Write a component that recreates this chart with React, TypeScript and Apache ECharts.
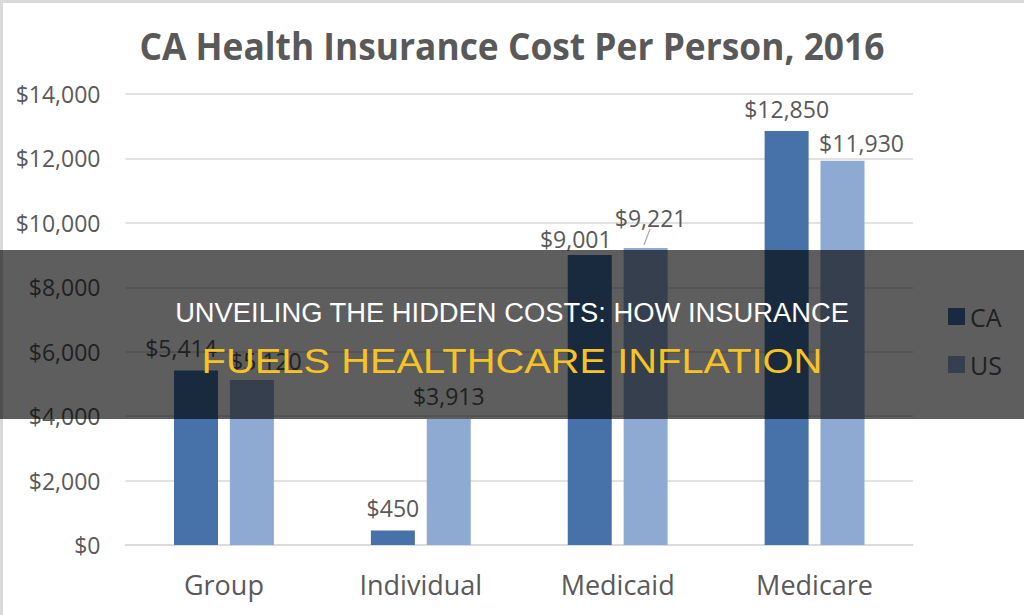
import React, { useEffect, useRef } from "react";
import * as echarts from "echarts";

const categories = ["Group", "Individual", "Medicaid", "Medicare"];
const caValues = [5414, 450, 9001, 12850];
const usValues = [5120, 3913, 9221, 11930];
const seriesNames = ["CA", "US"];
const yTicks = { min: 0, max: 14000, interval: 2000 };
const titleText = "CA Health Insurance Cost Per Person, 2016";
const bannerLine1 = "UNVEILING THE HIDDEN COSTS: HOW INSURANCE";
const bannerLine2 = "FUELS HEALTHCARE INFLATION";

// label nudges (Excel-style label placement)
const caLabelShift = [[-15, 0], [0, 0], [-14, 6], [0, 0]];
const usLabelShift = [[14, 3], [0, 0], [5, -7], [19, 5]];

function measure(text: string, font: string): number {
  const c = document.createElement("canvas");
  const ctx = c.getContext("2d");
  if (!ctx) return 1;
  ctx.font = font;
  return ctx.measureText(text).width || 1;
}

const fmt = (v: number) => "$" + v.toLocaleString("en-US");

export default function App() {
  const ref = useRef<HTMLDivElement>(null);
  useEffect(() => {
    if (!ref.current) return;
    document.body.style.margin = "0";
    const chart = echarts.init(ref.current, undefined, { renderer: "svg" });
    const gray = "#595959";
    const titleFont = '700 38px "Open Sans"';
    const b1Font = '400 27px "Liberation Sans"';
    const b2Font = '400 35px "Liberation Sans"';
    const titleScale = 745 / measure(titleText, titleFont);
    const b1Scale = 675 / measure(bannerLine1, b1Font);
    const b2Scale = 621 / measure(bannerLine2, b2Font);

    const labelBase = {
      show: true,
      position: "top",
      distance: 11,
      color: gray,
      fontFamily: "Open Sans",
      fontSize: 23,
      lineHeight: 23,
      formatter: (p: any) => fmt(p.value),
    };

    chart.setOption({
      animation: false,
      backgroundColor: "#ffffff",
      grid: { left: 125.5, right: 111, top: 94, bottom: 70, containLabel: false },
      legend: {
        orient: "vertical",
        left: 943,
        top: 299,
        itemWidth: 17,
        itemHeight: 17,
        itemGap: 23,
        icon: "rect",
        textStyle: { color: gray, fontFamily: "Open Sans", fontSize: 25, padding: [0, 0, 0, 0] },
        data: seriesNames,
      },
      xAxis: {
        type: "category",
        data: categories,
        axisLine: { lineStyle: { color: "#d9d9d9", width: 1.5 } },
        axisTick: { show: false },
        axisLabel: { color: gray, fontFamily: "Open Sans", fontSize: 27, margin: 26 },
      },
      yAxis: {
        type: "value",
        min: yTicks.min,
        max: yTicks.max,
        interval: yTicks.interval,
        axisLine: { show: false },
        axisTick: { show: false },
        splitLine: { lineStyle: { color: "#d9d9d9", width: 1.5 } },
        axisLabel: {
          color: gray,
          fontFamily: "Open Sans",
          fontSize: 23,
          margin: 25,
          formatter: (v: number) => fmt(v),
        },
      },
      series: [
        {
          name: seriesNames[0],
          type: "bar",
          barWidth: 44,
          barGap: "27%",
          itemStyle: { color: "#4672a9" },
          label: labelBase,
          labelLayout: (p: any) => ({ dx: caLabelShift[p.dataIndex][0], dy: caLabelShift[p.dataIndex][1] }),
          data: caValues,
        },
        {
          name: seriesNames[1],
          type: "bar",
          barWidth: 44,
          itemStyle: { color: "#8faad2" },
          label: labelBase,
          labelLayout: (p: any) => ({ dx: usLabelShift[p.dataIndex][0], dy: usLabelShift[p.dataIndex][1] }),
          data: usValues,
        },
      ],
      graphic: [
        {
          type: "line",
          z: 50,
          shape: { x1: 650, y1: 229, x2: 644, y2: 245 },
          style: { stroke: "#a6a6a6", lineWidth: 1.2 },
        },
        {
          type: "line",
          z: 50,
          shape: { x1: 0, y1: 1.5, x2: 1024, y2: 1.5 },
          style: { stroke: "#d9d9d9", lineWidth: 3 },
        },
        {
          type: "line",
          z: 50,
          shape: { x1: 1.5, y1: 0, x2: 1.5, y2: 615 },
          style: { stroke: "#d9d9d9", lineWidth: 3 },
        },
        {
          type: "text",
          z: 50,
          x: 512,
          y: 46,
          scaleX: titleScale,
          style: {
            text: titleText,
            font: titleFont,
            fill: gray,
            textAlign: "center",
            textVerticalAlign: "middle",
          },
        },
        {
          type: "rect",
          z: 100,
          shape: { x: 0, y: 250, width: 1024, height: 169 },
          style: { fill: "rgba(0,0,0,0.63)" },
        },
        {
          type: "text",
          z: 101,
          x: 512,
          y: 313,
          scaleX: b1Scale,
          style: {
            text: bannerLine1,
            font: b1Font,
            fill: "#ffffff",
            textAlign: "center",
            textVerticalAlign: "middle",
          },
        },
        {
          type: "text",
          z: 101,
          x: 512,
          y: 361,
          scaleX: b2Scale,
          style: {
            text: bannerLine2,
            font: b2Font,
            fill: "#f6c324",
            textAlign: "center",
            textVerticalAlign: "middle",
          },
        },
      ],
    });
    return () => chart.dispose();
  }, []);
  return <div ref={ref} style={{ width: 1024, height: 615 }} />;
}
